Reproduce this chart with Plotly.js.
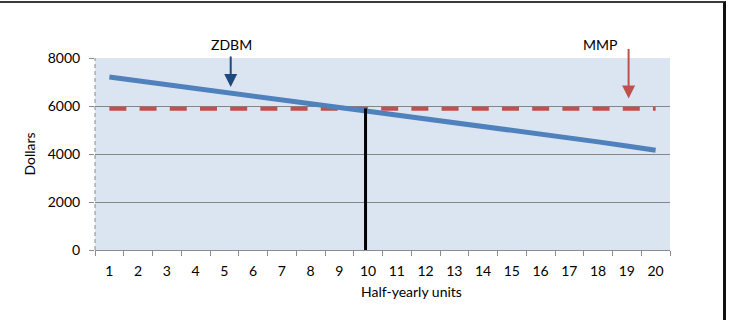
<!DOCTYPE html>
<html>
<head>
<meta charset="utf-8">
<script src="https://cdn.plot.ly/plotly-3.0.1.min.js"></script>
<style>
html,body{margin:0;padding:0;background:#fff;}
#wrap{position:relative;width:734px;height:320px;overflow:hidden;}
#chart{width:734px;height:320px;}
#frame{position:absolute;left:-5px;top:1px;width:731px;height:330px;border-top:2px solid #3a3a3a;border-right:3px solid #111;box-sizing:border-box;pointer-events:none;}
</style>
</head>
<body>
<div id="wrap"><div id="chart"></div><div id="frame"></div></div>
<script>
// Data
const units = [1,2,3,4,5,6,7,8,9,10,11,12,13,14,15,16,17,18,19,20];
const tickLabels = units.map(String);
const zdbm = [7210,7045,6880,6710,6545,6390,6240,6085,5935,5785,5630,5475,5325,5170,5015,4845,4675,4505,4330,4160];
const mmpValue = 5890;
const mmp = units.map(() => mmpValue);
const breakEvenX = [9.91, 9.91];
const breakEvenY = [0, 5900];
const yTicks = [0,2000,4000,6000,8000];
const boundaries = [0.5,1.5,2.5,3.5,4.5,5.5,6.5,7.5,8.5,9.5,10.5,11.5,12.5,13.5,14.5,15.5,16.5,17.5,18.5,19.5,20.5];

const FONT = 'Lato, "Open Sans", sans-serif';

const traces = [
  {x: units, y: mmp, type: 'scatter', mode: 'lines', name: 'MMP',
   line: {color: '#C0504D', width: 4, dash: '17px,13.2px'}, hoverinfo: 'skip'},
  {x: units, y: zdbm, type: 'scatter', mode: 'lines', name: 'ZDBM',
   line: {color: '#4F81BD', width: 5}, hoverinfo: 'skip'},
  {x: breakEvenX, y: breakEvenY, type: 'scatter', mode: 'lines', name: 'break-even',
   line: {color: '#000000', width: 3}, hoverinfo: 'skip'}
];

const layout = {
  width: 734, height: 320,
  margin: {l: 95, r: 64, t: 58, b: 70},
  paper_bgcolor: '#ffffff',
  plot_bgcolor: '#DBE5F1',
  showlegend: false,
  font: {family: FONT, size: 14, color: '#000'},
  xaxis: {
    range: [0.5, 20.5],
    tickmode: 'array', tickvals: units, ticktext: tickLabels,
    ticks: 'outside', ticklen: 0, tickcolor: '#888',
    ticklabelstandoff: 8,
    showgrid: false, zeroline: false,
    showline: true, linecolor: '#8c8c8c', linewidth: 1,
    minor: {tickmode: 'array', tickvals: boundaries, ticks: 'outside', ticklen: 5, tickcolor: '#8c8c8c', tickwidth: 1, showgrid: false},
    tickfont: {family: FONT, size: 14}
  },
  yaxis: {
    range: [0, 8000],
    tickmode: 'array', tickvals: yTicks,
    ticks: 'outside', ticklen: 5, tickcolor: '#8c8c8c',
    ticklabelstandoff: 6,
    showgrid: true, gridcolor: '#868686', gridwidth: 1,
    zeroline: false, showline: false,
    tickfont: {family: FONT, size: 14},
    title: {text: 'Dollars', font: {family: FONT, size: 14}, standoff: 8}
  },
  shapes: [
    {type: 'line', xref: 'paper', yref: 'paper', x0: 0, x1: 0, y0: 0, y1: 1,
     line: {color: '#8c8c8c', width: 1, dash: '4px,3px'}, layer: 'above'}
  ],
  annotations: [
    {text: 'Half-yearly units', xref: 'paper', yref: 'paper', x: 0.55, y: -0.218,
     xanchor: 'center', yanchor: 'middle', showarrow: false, font: {family: FONT, size: 14}},
    {text: 'ZDBM', xref: 'x', yref: 'paper', x: 5.25, y: 1.071, xanchor: 'center', yanchor: 'middle',
     showarrow: false, font: {family: FONT, size: 14}},
    {text: 'MMP', xref: 'x', yref: 'paper', x: 18.07, y: 1.071, xanchor: 'center', yanchor: 'middle',
     showarrow: false, font: {family: FONT, size: 14}},
    {text: '', xref: 'x', yref: 'y', x: 5.22, y: 6794, ax: 0, ay: -32, showarrow: true,
     arrowhead: 2, arrowsize: 1.3, arrowwidth: 2, arrowcolor: '#1F497D'},
    {text: '', xref: 'x', yref: 'y', x: 19.06, y: 6311, ax: 0, ay: -51, showarrow: true,
     arrowhead: 2, arrowsize: 1.3, arrowwidth: 2, arrowcolor: '#C0504D'}
  ]
};

Plotly.newPlot('chart', traces, layout, {staticPlot: true, displayModeBar: false});
</script>
</body>
</html>
